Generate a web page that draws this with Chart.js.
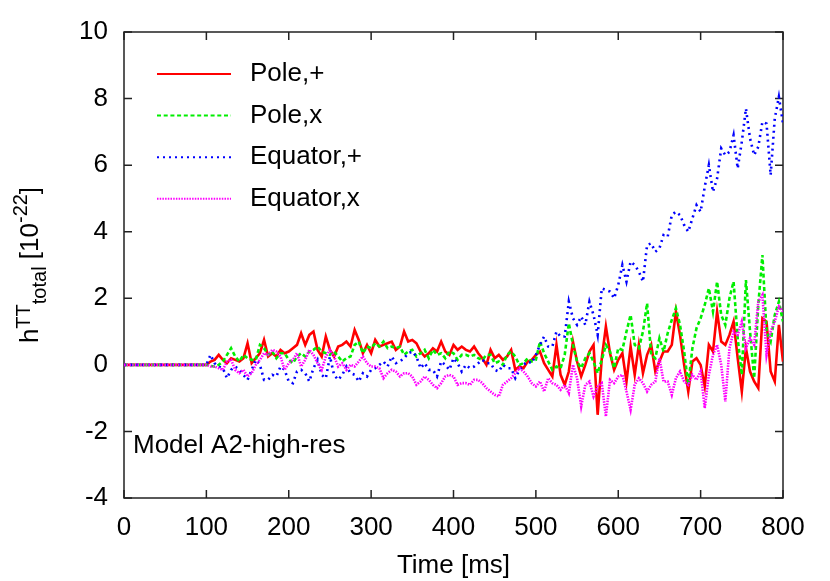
<!DOCTYPE html>
<html>
<head>
<meta charset="utf-8">
<script src="https://cdn.jsdelivr.net/npm/chart.js@4.4.1/dist/chart.umd.min.js"></script>
<style>
  html, body { margin: 0; padding: 0; background: #fff; }
  canvas { display: block; }
</style>
</head>
<body>
<canvas id="chart" width="830" height="581"></canvas>
<script>
// sampling times [ms]
const timeMs = [0,
  100, 105, 110, 115, 120, 125, 130, 135, 140, 145,
  150, 155, 160, 165, 170, 175, 180, 185, 190, 195,
  200, 205, 210, 215, 220, 225, 230, 235, 240, 245,
  250, 255, 260, 265, 270, 275, 280, 285, 290, 295,
  300, 305, 310, 315, 320, 325, 330, 335, 340, 345,
  350, 355, 360, 365, 370, 375, 380, 385, 390, 395,
  400, 405, 410, 415, 420, 425, 430, 435, 440, 445,
  450, 455, 460, 465, 470, 475, 480, 485, 490, 495,
  500, 505, 510, 515, 520, 525, 530, 535, 540, 545,
  550, 555, 560, 565, 570, 575, 580, 585, 590, 595,
  600, 605, 610, 615, 620, 625, 630, 635, 640, 645,
  650, 655, 660, 665, 670, 675, 680, 685, 690, 695,
  700, 705, 710, 715, 720, 725, 730, 735, 740, 745,
  750, 755, 760, 765, 770, 775, 780, 785, 790, 795,
  800];

// h^TT_total [1e-22]
const polePlus = [0,
  0, 0.1, 0.15, 0.3, 0.15, 0.05, 0.2, 0.15, 0.1, 0.2,
  0.65, 0.05, 0.2, 0.35, 0.75, 0.25, 0.35, 0.25, 0.45, 0.35,
  0.4, 0.5, 0.6, 0.95, 0.6, 0.9, 1.0, 0.45, 0.25, 0.85,
  0.45, 0.25, 0.55, 0.6, 0.7, 0.55, 1.05, 0.75, 0.35, 0.6,
  0.35, 0.75, 0.55, 0.6, 0.65, 0.7, 0.45, 0.55, 1.0, 0.7,
  0.75, 0.65, 0.4, 0.25, 0.35, 0.5, 0.4, 0.7, 0.4, 0.3,
  0.6, 0.45, 0.55, 0.45, 0.4, 0.55, 0.35, 0.2, 0.0, 0.45,
  0.2, 0.3, 0.15, 0.25, 0.45, -0.15, -0.05, -0.1, 0.1, 0.15,
  0.3, 0.4, 0.05, -0.15, -0.35, 0.6, -0.3, -0.6, -0.2, 0.7,
  0.1, -0.35, 0.0, 0.4, 0.6, -1.5, 0.2, 1.15, 0.35, -0.15,
  0.15, 0.35, -0.5, 0.55, -0.3, 0.6, -0.25, 0.3, 0.6, -0.2,
  0.1, 0.4, 0.4, 0.6, 1.6, 0.9, 0.0, -0.8, 0.1, 0.2,
  0.0, -0.65, 0.6, 0.4, 1.6, 0.7, 0.6, 0.9, 1.3, 0.2,
  -0.8, 0.5, -0.2, -0.5, -0.7, 1.4, 1.3, -0.2, -0.5, 1.2,
  0.1];

const poleCross = [0,
  0, -0.03, -0.05, 0.0, 0.1, 0.3, 0.5, 0.25, 0.1, 0.3,
  0.2, 0.15, 0.15, 0.6, 0.5, 0.3, 0.4, 0.2, 0.35, 0.35,
  0.15, 0.05, 0.25, 0.35, 0.25, 0.4, 0.45, 0.55, 0.4, 0.35,
  0.3, 0.4, 0.25, 0.1, 0.2, 0.25, 0.6, 0.7, 0.35, 0.55,
  0.5, 0.65, 0.55, 0.7, 0.5, 0.55, 0.5, 0.55, 0.3, 0.4,
  0.45, 0.25, 0.35, 0.45, 0.2, 0.45, 0.3, 0.35, 0.2, 0.4,
  0.35, 0.15, 0.3, 0.3, 0.25, 0.3, 0.2, 0.15, 0.3, 0.3,
  0.05, 0.1, 0.0, 0.3, 0.4, 0.25, 0.0, 0.05, 0.2, 0.1,
  0.15, 0.7, 0.35, 0.1, -0.15, -0.05, -0.1, 0.3, 1.25, 0.6,
  0.1, -0.1, 0.2, 0.35, 0.1, -0.25, 0.15, 0.6, 0.4, -0.1,
  0.5, 0.45, 1.0, 1.5, 0.6, 0.5, 1.0, 1.85, 0.3, 0.2,
  0.8, 0.4, 0.95, 1.35, 1.7, 1.2, 0.4, -0.6, 0.5, 1.1,
  1.4, 1.8, 2.3, 1.6, 2.5, 1.5, 1.2, 2.0, 2.5, 0.8,
  -0.3, 2.55, 1.0, -0.4, 1.8, 3.3, 1.0, 0.7, 1.5, 1.9,
  1.3];

const equatorPlus = [0,
  0, 0.3, 0.05, -0.05, -0.1, -0.4, -0.15, -0.05, -0.15, -0.3,
  -0.45, -0.15, 0.15, 0.0, -0.45, -0.45, -0.3, -0.35, -0.05, -0.15,
  -0.5, -0.55, -0.2, -0.15, -0.25, -0.5, -0.1, 0.15, -0.3, -0.4,
  0.25, -0.3, -0.45, -0.3, -0.05, -0.25, -0.3, -0.5, -0.25, -0.35,
  -0.15, -0.1, 0.0, 0.1, -0.05, 0.25, 0.05, 0.1, 0.2, 0.35,
  0.4, 0.25, -0.1, 0.05, -0.15, -0.15, -0.35, 0.1, 0.0, -0.15,
  0.2, 0.05, -0.2, 0.0, -0.1, -0.05, 0.05, 0.15, 0.05, 0.05,
  -0.15, -0.2, 0.0, -0.1, -0.1, -0.4, -0.15, 0.0, 0.1, 0.05,
  0.3, 0.6, 0.85, 0.55, 0.55, 1.0, 0.85, 0.85, 1.9, 1.4,
  1.2, 1.45, 1.2, 1.9, 1.5, 0.9, 2.3, 2.25, 2.2, 2.0,
  2.4, 3.0, 2.5, 3.1, 3.0, 2.8, 2.5, 3.6, 3.65, 3.4,
  3.5, 3.9, 3.85, 4.5, 4.6, 4.5, 4.2, 4.0, 4.4, 4.8,
  4.6, 5.35, 6.0, 5.2, 5.6, 6.5, 6.3, 6.4, 6.9, 5.9,
  6.7, 7.7, 6.8, 6.3, 6.55, 7.3, 7.25, 5.7, 7.4, 8.05,
  7.25];

const equatorCross = [0,
  0, -0.05, -0.05, -0.1, -0.15, 0.1, 0.15, -0.15, -0.25, -0.15,
  -0.35, -0.25, 0.0, 0.15, 0.35, 0.3, 0.45, 0.4, 0.25, -0.15,
  0.05, 0.15, 0.35, -0.05, 0.15, 0.45, 0.3, 0.05, -0.15, 0.25,
  0.45, 0.25, -0.05, 0.05, -0.15, 0.0, -0.05, 0.1, 0.25, 0.05,
  -0.05, -0.05, -0.1, -0.4, -0.25, -0.15, -0.2, -0.35, -0.25, -0.25,
  -0.35, -0.6, -0.5, -0.35, -0.45, -0.6, -0.7, -0.55, -0.35, -0.3,
  -0.35, -0.6, -0.55, -0.55, -0.6, -0.45, -0.45, -0.55, -0.7, -0.8,
  -0.9, -0.95, -0.6, -0.5, -0.4, -0.25, -0.1, -0.2, -0.35, -0.55,
  -0.65, -0.5, -0.8, -0.4, -0.55, -0.6, -0.75, -0.6, -0.85, 0.0,
  -0.4, -1.25, -0.6, -0.5, -0.95, -0.65, -0.55, -1.55, -0.45, -0.55,
  -0.35, -0.3, -0.8, -1.35, -0.6, -0.4, -0.55, -0.8, -0.6, -0.5,
  0.2, -0.5, -0.5, -0.9, -0.4, -0.2, -0.5, -0.6, -0.3, -0.45,
  -0.2, -1.3, -0.3, 0.3, 0.6, 0.0, -1.1, 0.5, 1.0, 0.9,
  1.3, 0.5, 0.8, 0.6, 1.9, 2.1, 0.3, 1.0, 1.3, 1.75,
  1.6];

const seriesLabels = ['Pole,+', 'Pole,x', 'Equator,+', 'Equator,x'];
const xTicks = { min: 0, max: 800, step: 100 };
const yTicks = { min: -4, max: 10, step: 2 };

const FONT = '"Liberation Sans", Arial, Helvetica, sans-serif';
const AXIS = '#222';

function pts(values) {
  return values.map((v, i) => ({ x: timeMs[i], y: v }));
}

function lineSet(label, values, color, dash, order) {
  return {
    label: label,
    data: pts(values),
    borderColor: color,
    borderWidth: 2.6,
    borderDash: dash,
    pointRadius: 0,
    tension: 0,
    fill: false,
    order: order
  };
}

// box round the plot, ticks pointing in on all four sides
const framePlugin = {
  id: 'frame',
  beforeDatasetsDraw(chart) {
    const { ctx, chartArea: a, scales: { x, y } } = chart;
    ctx.save();
    ctx.strokeStyle = AXIS;
    ctx.lineWidth = 1.5;
    ctx.setLineDash([]);
    ctx.strokeRect(a.left, a.top, a.right - a.left, a.bottom - a.top);
    ctx.beginPath();
    x.ticks.forEach(t => {
      const px = x.getPixelForValue(t.value);
      ctx.moveTo(px, a.bottom); ctx.lineTo(px, a.bottom - 8);
      ctx.moveTo(px, a.top); ctx.lineTo(px, a.top + 8);
    });
    y.ticks.forEach(t => {
      const py = y.getPixelForValue(t.value);
      ctx.moveTo(a.left, py); ctx.lineTo(a.left + 8, py);
      ctx.moveTo(a.right, py); ctx.lineTo(a.right - 8, py);
    });
    ctx.stroke();
    ctx.restore();
  }
};

// legend, model note and the y title with its super/subscripts
const notesPlugin = {
  id: 'notes',
  afterDraw(chart) {
    const { ctx, chartArea: a } = chart;
    ctx.save();

    // legend
    ctx.font = '26px ' + FONT;
    ctx.textBaseline = 'middle';
    ctx.textAlign = 'left';
    chart.data.datasets.forEach((ds, i) => {
      const yy = a.top + 42 + i * 41.6;
      ctx.strokeStyle = ds.borderColor;
      ctx.lineWidth = 2;
      ctx.setLineDash(ds.borderDash);
      ctx.beginPath();
      ctx.moveTo(a.left + 33, yy);
      ctx.lineTo(a.left + 107, yy);
      ctx.stroke();
      ctx.fillStyle = '#000';
      ctx.fillText(ds.label, a.left + 126, yy);
    });
    ctx.setLineDash([]);

    // model label
    ctx.textBaseline = 'alphabetic';
    ctx.fillText('Model A2-high-res', a.left + 9, 453);

    // y title: h^TT_total [10^-22]
    const parts = [
      { t: 'h', size: 26, dy: 0 },
      { t: 'TT', size: 20, dy: -8 },
      { t: 'total', size: 20, dy: 8 },
      { t: ' [10', size: 26, dy: 0 },
      { t: '-22', size: 20, dy: -11 },
      { t: ']', size: 26, dy: 0 }
    ];
    let total = 0;
    parts.forEach(p => { ctx.font = p.size + 'px ' + FONT; p.w = ctx.measureText(p.t).width; total += p.w; });
    ctx.translate(38, (a.top + a.bottom) / 2);
    ctx.rotate(-Math.PI / 2);
    let cx = -total / 2;
    parts.forEach(p => {
      ctx.font = p.size + 'px ' + FONT;
      ctx.fillText(p.t, cx, p.dy);
      cx += p.w;
    });
    ctx.restore();
  }
};

Chart.defaults.font.family = FONT;
Chart.defaults.color = '#000';

new Chart(document.getElementById('chart').getContext('2d'), {
  type: 'line',
  data: {
    datasets: [
      lineSet(seriesLabels[0], polePlus, '#ff0000', [], 4),
      lineSet(seriesLabels[1], poleCross, '#00ee00', [4, 2.7], 3),
      lineSet(seriesLabels[2], equatorPlus, '#0000ff', [2, 4], 2),
      lineSet(seriesLabels[3], equatorCross, '#ff00ff', [1.5, 1.2], 1)
    ]
  },
  options: {
    responsive: false,
    animation: false,
    events: [],
    layout: { padding: { left: 0, right: 47, top: 32, bottom: 0 } },
    plugins: {
      legend: { display: false },
      tooltip: { enabled: false }
    },
    scales: {
      x: {
        type: 'linear',
        min: xTicks.min,
        max: xTicks.max,
        afterFit: s => { s.height = 83; },
        grid: { display: false, drawTicks: false },
        border: { display: false },
        ticks: { stepSize: xTicks.step, padding: 14, font: { size: 26 }, maxRotation: 0 },
        title: { display: true, text: 'Time [ms]', font: { size: 26 }, padding: { top: 0, bottom: 0 } }
      },
      y: {
        type: 'linear',
        min: yTicks.min,
        max: yTicks.max,
        afterFit: s => { s.width = 124; },
        grid: { display: false, drawTicks: false },
        border: { display: false },
        ticks: { stepSize: yTicks.step, padding: 16, font: { size: 26 } }
      }
    }
  },
  plugins: [framePlugin, notesPlugin]
});
</script>
</body>
</html>
